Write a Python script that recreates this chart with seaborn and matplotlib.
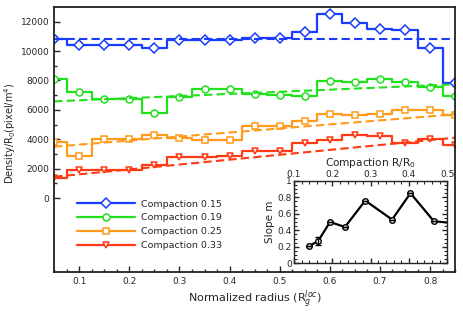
import numpy as np
import seaborn as sns
import matplotlib
matplotlib.use("Agg")
from matplotlib import pyplot as plt
from matplotlib.ticker import MultipleLocator, FixedLocator

# radial profiles, one value per bin centre
radius = [0.05, 0.10, 0.15, 0.20, 0.25, 0.30, 0.35, 0.40, 0.45,
          0.50, 0.55, 0.60, 0.65, 0.70, 0.75, 0.80, 0.85]
dens_015 = [10840, 10410, 10400, 10400, 10180, 10780, 10780, 10760, 10910,
            10910, 11320, 12500, 11880, 11520, 11410, 10180, 7800]
dens_019 = [8075, 7210, 6735, 6735, 5780, 6870, 7395, 7395, 7055,
            7035, 6965, 7960, 7890, 8075, 7920, 7530, 6920]
dens_025 = [3800, 2860, 4015, 4040, 4265, 4080, 3970, 3980, 4880,
            4900, 5240, 5740, 5650, 5740, 5965, 6010, 5650]
dens_033 = [1400, 1930, 1890, 1890, 2280, 2820, 2820, 2870, 3200,
            3200, 3720, 3930, 4310, 4220, 3770, 3990, 3600]

# linear fits (value at r=0.05 and r=0.85)
fit_r = [0.05, 0.85]
fit_015 = [10850, 10850]
fit_019 = [6580, 7735]
fit_025 = [3500, 5700]
fit_033 = [1455, 4110]

labels = ["Compaction 0.15", "Compaction 0.19", "Compaction 0.25", "Compaction 0.33"]
colors = ["#1a3cff", "#22e01e", "#ff9a1a", "#ff3a14"]
markers = ["D", "o", "s", "v"]

# inset: slope vs compaction
compaction = [0.140, 0.163, 0.194, 0.233, 0.286, 0.356, 0.404, 0.465, 0.53]
slope_m = [0.21, 0.27, 0.50, 0.44, 0.76, 0.53, 0.85, 0.51, 0.48]
slope_err = [0, 0.05, 0, 0, 0, 0, 0, 0, 0]

sns.set_style("ticks")
plt.rcParams["font.family"] = ["DejaVu Sans"]
plt.rcParams["xtick.direction"] = "in"
plt.rcParams["ytick.direction"] = "in"

fig = plt.figure(figsize=(4.63, 3.27), dpi=100)
ax = fig.add_axes([0.117, 0.169, 0.866, 0.810])

profiles = [dens_015, dens_019, dens_025, dens_033]
fits = [fit_015, fit_019, fit_025, fit_033]
for dens, fit, lab, col, mk in zip(profiles, fits, labels, colors, markers):
    sns.lineplot(x=radius, y=dens, ax=ax, color=col, lw=1.6,
                 drawstyle="steps-mid", marker=mk, markersize=5,
                 markerfacecolor="white", markeredgecolor=col,
                 markeredgewidth=1.1, label=lab)
    sns.lineplot(x=fit_r, y=fit, ax=ax, color=col, lw=1.5,
                 linestyle=(0, (4, 2)), legend=False)

ax.set_xlim(0.05, 0.85)
ax.set_ylim(-5000, 13000)
ax.set_yticks(np.arange(0, 12001, 2000))
ax.yaxis.set_minor_locator(FixedLocator(np.arange(1000, 12000, 2000)))
ax.set_xticks([0.1, 0.2, 0.3, 0.4, 0.5, 0.6, 0.7, 0.8])
ax.xaxis.set_minor_locator(MultipleLocator(0.025))
ax.tick_params(axis="both", which="major", labelsize=6.5, length=4, width=1)
ax.tick_params(axis="both", which="minor", length=2.5, width=1)
ax.tick_params(top=False, right=False)
for sp in ax.spines.values():
    sp.set_linewidth(1.3)
    sp.set_color("#222222")

ax.set_xlabel("Normalized radius (R$_g^{loc}$)", fontsize=8, labelpad=2)
ax.set_ylabel("Density/R$_0$(pixel/m$^4$)", fontsize=7)
ax.yaxis.set_label_coords(-0.09, 0.524)

ax.legend(loc="upper left", bbox_to_anchor=(0.045, 0.29), frameon=False,
          fontsize=6.8, handlelength=6.2, labelspacing=0.5, handletextpad=0.6,
          borderpad=0)

# inset
ins = fig.add_axes([0.635, 0.195, 0.331, 0.252])
sns.lineplot(x=compaction, y=slope_m, ax=ins, color="black", lw=1.6,
             marker="o", markersize=4, markerfacecolor="white",
             markeredgecolor="black", markeredgewidth=1.0)
ins.errorbar(compaction, slope_m, yerr=slope_err, fmt="none",
             ecolor="black", elinewidth=1, capsize=2)
ins.set_xlim(0.1, 0.5)
ins.set_ylim(0, 1)
ins.set_xticks([0.1, 0.2, 0.3, 0.4, 0.5])
ins.xaxis.set_minor_locator(MultipleLocator(0.02))
ins.set_yticks([0, 0.2, 0.4, 0.6, 0.8, 1.0])
ins.set_yticklabels(["0", "0.2", "0.4", "0.6", "0.8", "1"])
ins.yaxis.set_minor_locator(MultipleLocator(0.05))
ins.tick_params(axis="both", which="both", top=True, right=True,
                labeltop=True, labelbottom=False, labelsize=6.5, pad=1.5)
ins.tick_params(which="major", length=3.5, width=1)
ins.tick_params(which="minor", length=2, width=0.8)
ins.xaxis.set_label_position("top")
ins.set_xlabel("Compaction R/R$_0$", fontsize=7.6, labelpad=3)
ins.set_ylabel("Slope m", fontsize=7.5, labelpad=2)
for sp in ins.spines.values():
    sp.set_linewidth(1.0)

fig.savefig("out.png", dpi=100)
